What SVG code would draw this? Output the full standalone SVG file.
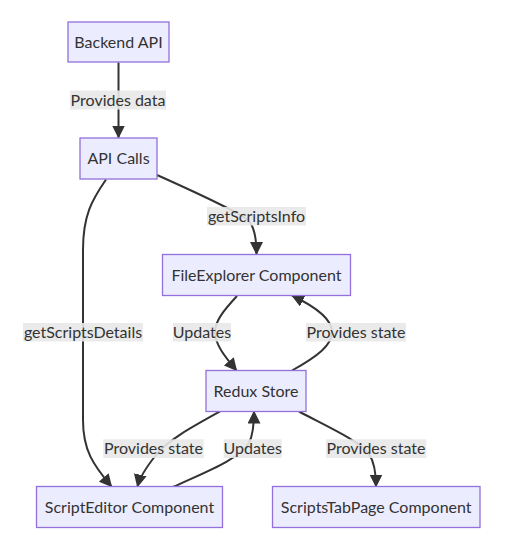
<svg xmlns="http://www.w3.org/2000/svg" width="512" height="538" viewBox="0 0 512 538">
<style>
.node rect{fill:#ECECFF;stroke:#9370DB;stroke-width:1.3}
text{font-family:"Trebuchet MS",Lato,"DejaVu Sans",sans-serif;font-size:16px;fill:#333333;text-anchor:middle;dominant-baseline:central}
.edge{fill:none;stroke:#333333;stroke-width:2}
.lbl rect{fill:#e8e8e8;opacity:0.9}
</style>
<defs>
<marker id="arr" markerUnits="userSpaceOnUse" markerWidth="13" markerHeight="13" refX="12" refY="6.5" orient="auto">
<path d="M0,0 L13,6.5 L0,13 z" fill="#333333"/>
</marker>
</defs>
<rect width="512" height="538" fill="#ffffff"/>
<g id="connectors">
<path class="edge" marker-end="url(#arr)" d="M118.5,62.5 L118.5,137.5"/>
<path class="edge" marker-end="url(#arr)" d="M157,175 C195,192 235,210 248,220 C254,226 256.5,236 256.5,254"/>
<path class="edge" marker-end="url(#arr)" d="M106,179.5 C92,200 83,215 83,250 L83,420 C83,450 93,465 111.5,486.5"/>
<path class="edge" marker-end="url(#arr)" d="M237,296 C224,310 215,321 215,332 C215,345 226,358 236.5,370.5"/>
<path class="edge" marker-end="url(#arr)" d="M292,370.5 C318,356 332,345 332,332 C332,319 316,307 292,295.5"/>
<path class="edge" marker-end="url(#arr)" d="M220,411.5 C192,427 168,440 156,455 C148,465 140,476 137.5,486.5"/>
<path class="edge" marker-end="url(#arr)" d="M173,487 C205,472 238,460 249,443 C253,435 254,424 254,411.5"/>
<path class="edge" marker-end="url(#arr)" d="M299,411.5 C328,427 358,440 369,454 C375,463 376,475 376,486.5"/>
</g>
<g id="labels">
<g class="lbl"><rect x="70" y="90.5" width="96" height="19"/><text x="118" y="99">Provides data</text></g>
<g class="lbl"><rect x="207" y="207" width="99" height="18.5"/><text x="256.5" y="215">getScriptsInfo</text></g>
<g class="lbl"><rect x="23" y="323" width="120" height="18.5"/><text x="83" y="331">getScriptsDetails</text></g>
<g class="lbl"><rect x="173" y="323" width="58" height="18.5"/><text x="202" y="331">Updates</text></g>
<g class="lbl"><rect x="306" y="323" width="100" height="18.5"/><text x="356" y="331">Provides state</text></g>
<g class="lbl"><rect x="103.3" y="439.3" width="100.4" height="18.7"/><text x="153.5" y="447.5">Provides state</text></g>
<g class="lbl"><rect x="223.7" y="439.3" width="58" height="18.7"/><text x="252.7" y="447.5">Updates</text></g>
<g class="lbl"><rect x="326" y="439.3" width="100.3" height="18.7"/><text x="376" y="447.5">Provides state</text></g>
</g>
<g id="backend" class="node"><rect x="68" y="22" width="101" height="40"/><text x="118.5" y="41">Backend API</text></g>
<g id="apicalls" class="node"><rect x="80" y="138" width="77" height="41"/><text x="118.5" y="157.5">API Calls</text></g>
<g id="fileexplorer" class="node"><rect x="162.5" y="254.5" width="188" height="41"/><text x="256.5" y="274">FileExplorer Component</text></g>
<g id="redux" class="node"><rect x="206" y="370.5" width="100" height="41"/><text x="256" y="390">Redux Store</text></g>
<g id="scripteditor" class="node"><rect x="36.5" y="486.5" width="186" height="41"/><text x="129.5" y="506">ScriptEditor Component</text></g>
<g id="scriptstabpage" class="node"><rect x="272.5" y="486.5" width="207.5" height="41"/><text x="376.2" y="506">ScriptsTabPage Component</text></g>
</svg>
